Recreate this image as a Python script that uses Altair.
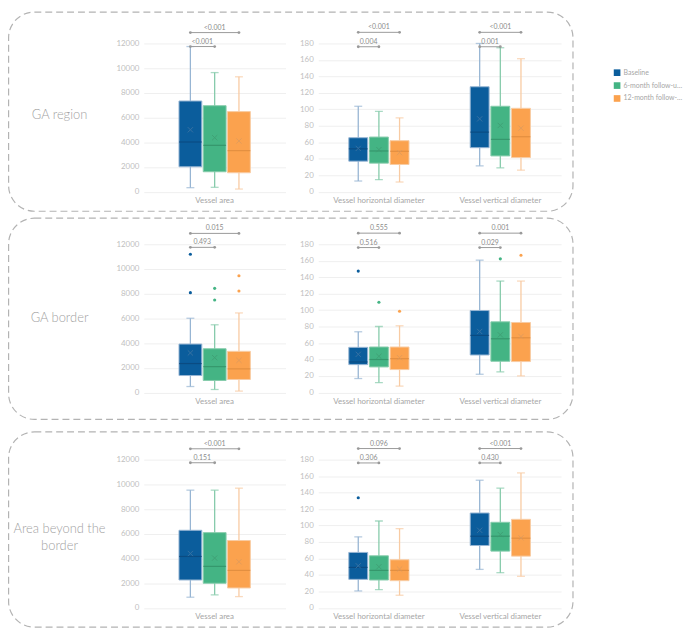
import altair as alt
import pandas as pd

groups = ["Baseline", "6-month follow-up visit", "12-month follow-up visit"]
fill_colors = ["#0b5d9c", "#44b484", "#fba24e"]
whisker_colors = ["#97b5d3", "#86cbab", "#f8cba3"]
median_colors = ["#0a4577", "#2f8a62", "#d9873a"]
mean_colors = ["#4a7aa6", "#3f9a70", "#d99a60"]

row_titles = ["GA region", "GA border", "Area beyond the\nborder"]
area_measures = ["Vessel area"]
diam_measures = ["Vessel horizontal diameter", "Vessel vertical diameter"]

# each group: [whisker low, Q1, median, Q3, whisker high, mean]
ga_region_area = [[320, 2010, 4020, 7340, 11750, 5010],
                  [350, 1610, 3750, 6960, 9640, 4370],
                  [210, 1530, 3320, 6480, 9300, 4100]]
ga_region_horiz = [[12.9, 37, 52, 65.5, 103.7, 52.5],
                   [14.5, 34.6, 49.4, 66.3, 97.6, 51],
                   [11.7, 33, 49, 61.9, 89.6, 47.4]]
ga_region_vert = [[31.3, 53.4, 72.3, 127.4, 180, 88.4],
                  [28.9, 43.4, 63.5, 103.7, 174.8, 80.4],
                  [26.1, 41.4, 66.7, 101.2, 161.5, 77.1]]

ga_border_area = [[480, 1370, 2340, 3920, 6010, 3200],
                  [240, 970, 2090, 3540, 5480, 2820],
                  [110, 1050, 1910, 3330, 6440, 2600]]
ga_border_horiz = [[16.9, 33.8, 37, 54.8, 73.7, 46.3],
                   [12, 31, 40, 55.2, 80.1, 43.9],
                   [7.7, 27.8, 41, 55.2, 81, 42.3]]
ga_border_vert = [[22.1, 45.5, 69.3, 99.5, 160.7, 74.1],
                  [25, 37.9, 65.2, 85.8, 135.3, 70],
                  [20.1, 37.5, 66.4, 85, 135.3, 68]]

beyond_area = [[860, 2255, 4160, 6280, 9530, 4400],
               [1050, 1990, 3360, 6090, 9530, 4030],
               [910, 1610, 3030, 5450, 9690, 3730]]
beyond_horiz = [[20.5, 34.6, 49.1, 67.3, 86.2, 51.1],
                [22.1, 33.8, 45.5, 63.2, 105.5, 49.9],
                [15.3, 33, 45.5, 58.4, 96.2, 47.1]]
beyond_vert = [[46.7, 75.7, 87, 115.2, 155, 94.2],
               [42.7, 68.9, 87, 103.9, 145.4, 89],
               [38.3, 62.8, 84.6, 107.5, 163.9, 85]]

# outliers per group
ga_region_area_out = [[], [], []]
ga_region_horiz_out = [[], [], []]
ga_region_vert_out = [[], [], []]
ga_border_area_out = [[11195, 8080], [8430, 7490], [9450, 8215]]
ga_border_horiz_out = [[147.4], [109.5], [98.7]]
ga_border_vert_out = [[], [162.3], [166.7]]
beyond_area_out = [[], [], []]
beyond_horiz_out = [[133.7], [], []]
beyond_vert_out = [[], [], []]

# p-values: (baseline vs 6-month, baseline vs 12-month)
ga_region_p = [("<0.001", "<0.001"), ("0.004", "<0.001"), ("0.001", "<0.001")]
ga_border_p = [("0.493", "0.015"), ("0.516", "0.555"), ("0.029", "0.001")]
beyond_p = [("0.151", "<0.001"), ("0.306", "0.096"), ("0.430", "<0.001")]

GREY_TXT = "#a6a6a6"
BR_COL = "#9a9a9a"
PLOT_H = 149.5


def stats_frame(measures, stats):
    recs = []
    for m, per_group in zip(measures, stats):
        for gi, (g, v) in enumerate(zip(groups, per_group)):
            recs.append(dict(measure=m, group=g, lo=v[0], q1=v[1], med=v[2], q3=v[3],
                             hi=v[4], mean=v[5], wc=whisker_colors[gi],
                             mdc=median_colors[gi], mnc=mean_colors[gi]))
    return pd.DataFrame(recs)


def outlier_frame(measures, outs):
    recs = []
    for m, per_group in zip(measures, outs):
        for gi, (g, vals) in enumerate(zip(groups, per_group)):
            for v in vals:
                recs.append(dict(measure=m, group=g, value=v, oc=fill_colors[gi]))
    return pd.DataFrame(recs, columns=["measure", "group", "value", "oc"])


def panel(measures, stats, outs, pvals, ymax, ystep, lv_low, lv_high, width,
          xscale, xoff_scale, box_w, half_step):
    df = stats_frame(measures, stats)
    x = alt.X("measure:N", sort=measures, scale=xscale,
              axis=alt.Axis(title=None, labelAngle=0, ticks=False, domain=False,
                            grid=False, labelPadding=5))
    xo = alt.XOffset("group:N", sort=groups, scale=xoff_scale)
    yscale = alt.Scale(domain=[0, ymax], nice=False, zero=True)
    yaxis = alt.Axis(title=None, values=list(range(0, ymax + 1, ystep)), ticks=False,
                     domain=False, grid=True, labelPadding=5, format="d")

    def Y(f):
        return alt.Y(f"{f}:Q", scale=yscale, axis=yaxis)

    base = alt.Chart(df)
    whisk = base.mark_rule(strokeWidth=1.3).encode(
        x=x, xOffset=xo, y=Y("lo"), y2="hi:Q",
        stroke=alt.Stroke("wc:N", scale=None))
    cap_lo = base.mark_tick(size=8, thickness=1.3).encode(
        x=x, xOffset=xo, y=Y("lo"), fill=alt.Fill("wc:N", scale=None))
    cap_hi = base.mark_tick(size=8, thickness=1.3).encode(
        x=x, xOffset=xo, y=Y("hi"), fill=alt.Fill("wc:N", scale=None))
    box = base.mark_bar(strokeWidth=1).encode(
        x=x, xOffset=xo, y=Y("q1"), y2="q3:Q",
        color=alt.Color("group:N", scale=alt.Scale(domain=groups, range=fill_colors),
                        legend=alt.Legend(orient="none", legendX=611, legendY=26,
                                          title=None, symbolType="square",
                                          symbolSize=45, symbolStrokeWidth=0,
                                          labelFontSize=7, labelColor=GREY_TXT,
                                          rowPadding=5, labelOffset=3,
                                          labelLimit=60, labelFont="Lato")),
        stroke=alt.Stroke("wc:N", scale=None))
    med = base.mark_tick(size=box_w, thickness=1.2).encode(
        x=x, xOffset=xo, y=Y("med"), fill=alt.Fill("mdc:N", scale=None))
    mean = base.mark_point(shape="M-1,-1L1,1M1,-1L-1,1", size=28, strokeWidth=1,
                           filled=False).encode(
        x=x, xOffset=xo, y=Y("mean"), stroke=alt.Stroke("mnc:N", scale=None))
    layers = [whisk, cap_lo, cap_hi, box, med, mean]

    odf = outlier_frame(measures, outs)
    if len(odf):
        layers.append(alt.Chart(odf).mark_circle(size=10, opacity=1).encode(
            x=x, xOffset=xo, y=Y("value"), fill=alt.Fill("oc:N", scale=None)))

    br = []
    lab_lo = []
    lab_hi = []
    for m, (p_lo, p_hi) in zip(measures, pvals):
        br += [dict(measure=m, group=groups[0], y=lv_low, id=m + "a"),
               dict(measure=m, group=groups[1], y=lv_low, id=m + "a"),
               dict(measure=m, group=groups[0], y=lv_high, id=m + "b"),
               dict(measure=m, group=groups[2], y=lv_high, id=m + "b")]
        lab_lo.append(dict(measure=m, group=groups[0], y=lv_low, t=p_lo))
        lab_hi.append(dict(measure=m, group=groups[1], y=lv_high, t=p_hi))
    brdf = pd.DataFrame(br)
    layers.append(alt.Chart(brdf).mark_line(color=BR_COL, strokeWidth=1).encode(
        x=x, xOffset=xo, y=Y("y"), detail="id:N"))
    layers.append(alt.Chart(brdf).mark_circle(color=BR_COL, size=8, opacity=1).encode(
        x=x, xOffset=xo, y=Y("y")))
    layers.append(alt.Chart(pd.DataFrame(lab_lo)).mark_text(
        dx=half_step, dy=-5, fontSize=7, color="#8c8c8c").encode(
        x=x, xOffset=xo, y=Y("y"), text="t:N"))
    layers.append(alt.Chart(pd.DataFrame(lab_hi)).mark_text(
        dy=-5, fontSize=7, color="#8c8c8c").encode(
        x=x, xOffset=xo, y=Y("y"), text="t:N"))
    return alt.layer(*layers).properties(width=width, height=PLOT_H)


def title_panel(text, fy, fy2, ty):
    one = pd.DataFrame({"k": [0]})
    frame = alt.Chart(one).mark_rect(filled=False, stroke="#b3b3b3", strokeWidth=1.2,
                                     strokeDash=[7, 4], cornerRadius=26).encode(
        x=alt.value(0.6), x2=alt.value(570), y=alt.value(fy), y2=alt.value(fy2))
    txt = alt.Chart(one).mark_text(fontSize=13, fontWeight=300, color="#9f9f9f",
                                   lineBreak="\n", lineHeight=18,
                                   baseline="middle").encode(
        x=alt.value(52), y=alt.value(ty), text=alt.value(text))
    return alt.layer(frame, txt).properties(width=117, height=PLOT_H)


area_x = alt.Scale(paddingInner=0, paddingOuter=0.473)
area_xo = alt.Scale(paddingInner=0.06, paddingOuter=0.03)
diam_x = alt.Scale(paddingInner=0, paddingOuter=0)
diam_xo = alt.Scale(range=[30, 92.4], paddingInner=0.085, paddingOuter=0.04)

row_specs = [
    (ga_region_area, ga_region_horiz, ga_region_vert,
     ga_region_area_out, ga_region_horiz_out, ga_region_vert_out, ga_region_p, (-31.7, 169.3, 72)),
    (ga_border_area, ga_border_horiz, ga_border_vert,
     ga_border_area_out, ga_border_horiz_out, ga_border_vert_out, ga_border_p, (-26.3, 176.7, 74)),
    (beyond_area, beyond_horiz, beyond_vert,
     beyond_area_out, beyond_horiz_out, beyond_vert_out, beyond_p, (-28, 169, 69.5)),
]

rows = []
for title, (a, h, v, ao, ho, vo, p, (fy, fy2, ty)) in zip(row_titles, row_specs):
    tp = title_panel(title, fy, fy2, ty)
    ap = panel(area_measures, [a], [ao], [p[0]], 12000, 2000, 11750, 12880, 143,
               area_x, area_xo, 23, 12)
    dp = panel(diam_measures, [h, v], [ho, vo], [p[1], p[2]], 180, 20, 176, 193.5, 245,
               diam_x, diam_xo, 19, 10.4)
    inner = alt.hconcat(ap, dp, spacing=33, bounds="flush").resolve_scale(
        x="independent", y="independent", xOffset="independent")
    row = alt.hconcat(tp, inner, spacing=20, bounds="flush").resolve_scale(
        x="independent", y="independent", xOffset="independent")
    rows.append(row)

top = alt.vconcat(rows[0], rows[1], spacing=5.6).resolve_scale(
    x="independent", y="independent", xOffset="independent")
chart = alt.vconcat(top, rows[2], spacing=10.9).resolve_scale(
    x="independent", y="independent", xOffset="independent").properties(
    padding=0
).configure(font="Lato").configure_view(stroke=None).configure_axis(
    labelFont="Lato", labelFontSize=8, labelColor="#bfbfbf", gridColor="#efefef",
    gridWidth=1
).configure_axisX(labelColor=GREY_TXT)

chart.save("out.html", embed_options={"renderer": "svg", "actions": False})
